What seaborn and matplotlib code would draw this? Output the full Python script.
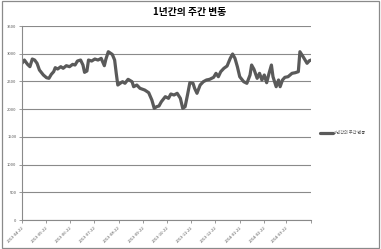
import matplotlib
matplotlib.use("Agg")
import matplotlib.pyplot as plt
import matplotlib.dates as mdates
import matplotlib.patches as mpatches
import seaborn as sns
import pandas as pd

# ---- data ----
start_date = "2013-04-22"
day_offsets = [0, 3, 7, 10, 13, 16, 19, 22, 27, 31, 34, 37, 40, 42, 45, 49, 52, 56, 60, 64,
               67, 70, 74, 77, 79, 82, 84, 88, 92, 96, 100, 104, 106, 109, 114, 117, 119, 121,
               124, 127, 130, 134, 139, 141, 145, 149, 155, 160, 164, 167, 170, 173, 176, 181,
               185, 188, 192, 196, 200, 203, 206, 209, 212, 216, 218, 221, 225, 229, 233, 237,
               242, 245, 248, 251, 255, 259, 263, 266, 269, 272, 275, 280, 284, 288, 290, 293,
               297, 300, 303, 306, 309, 312, 315, 317, 321, 324, 326, 329, 332, 336, 341, 345,
               349, 351, 355, 357, 360, 363, 365]
values = [2827, 2886, 2808, 2766, 2904, 2886, 2827, 2706, 2616, 2567, 2556, 2628, 2676, 2748,
          2724, 2766, 2737, 2784, 2766, 2808, 2796, 2868, 2886, 2796, 2664, 2688, 2886, 2868,
          2904, 2886, 2916, 2784, 2904, 3036, 2988, 2886, 2650, 2435, 2466, 2495, 2466, 2538,
          2495, 2405, 2435, 2376, 2345, 2297, 2165, 2015, 2044, 2057, 2134, 2225, 2195, 2273,
          2255, 2286, 2195, 2015, 2044, 2255, 2477, 2466, 2376, 2286, 2435, 2495, 2526, 2538,
          2574, 2646, 2585, 2676, 2737, 2778, 2916, 2995, 2916, 2766, 2585, 2495, 2466, 2616,
          2796, 2718, 2556, 2646, 2526, 2616, 2477, 2646, 2796, 2585, 2405, 2526, 2405, 2526,
          2574, 2585, 2646, 2657, 2676, 3036, 2946, 2899, 2827, 2874, 2886]
tick_labels = ["2013-04-22", "2013-05-22", "2013-06-22", "2013-07-22", "2013-08-22",
               "2013-09-22", "2013-10-22", "2013-11-22", "2013-12-22", "2014-01-22",
               "2014-02-22", "2014-03-22"]
axis_end = "2014-04-22"
series_name = "1년간의 주간 변동"
title = "1년간의 주간 변동"
y_ticks = [0, 500, 1000, 1500, 2000, 2500, 3000, 3500]

dates = pd.Timestamp(start_date) + pd.to_timedelta(day_offsets, unit="D")
df = pd.DataFrame({"date": dates, "value": values, "series": series_name})

sns.set_theme(style="white")
plt.rcParams["font.family"] = ["Noto Sans CJK KR", "DejaVu Sans"]

W, H = 381, 249
fig = plt.figure(figsize=(W / 100, H / 100), dpi=100)
ax = fig.add_axes([22 / W, (H - 220) / H, 289 / W, 194 / H])

sns.lineplot(data=df, x="date", y="value", hue="series", palette=["#5a5a5a"],
             linewidth=2.3, ax=ax, legend=True)

ax.set_ylim(0, 3500)
ax.set_yticks(y_ticks)
ax.set_yticklabels([str(v) for v in y_ticks], fontsize=3, color="#555555")
ax.set_xlim(pd.Timestamp(start_date), pd.Timestamp(axis_end))
tick_dates = [pd.Timestamp(t) for t in tick_labels] + [pd.Timestamp(axis_end)]
ax.set_xticks(tick_dates)
ax.set_xticklabels(tick_labels + [""], fontsize=3, rotation=45, ha="right",
                   rotation_mode="anchor", color="#555555")
ax.set_xlabel("")
ax.set_ylabel("")

ax.grid(axis="y", color="#8a8a8a", linewidth=0.8)
ax.grid(axis="x", visible=False)
for s in ["top", "right"]:
    ax.spines[s].set_visible(False)
for s in ["left", "bottom"]:
    ax.spines[s].set_color("#8a8a8a")
    ax.spines[s].set_linewidth(0.8)
ax.tick_params(axis="both", which="both", direction="out", length=2.5, width=0.6,
               color="#8a8a8a", pad=1.5, bottom=True, left=True)

leg = ax.legend(loc="center left", bbox_to_anchor=(318 / W, (H - 133) / H),
                bbox_transform=fig.transFigure, frameon=False, fontsize=3,
                handlelength=3, handletextpad=0.4, borderpad=0)
for t in leg.get_texts():
    t.set_color("#555555")

fig.text(190 / W, 1 - 12 / H, title, ha="center", va="center", fontsize=7,
         fontweight="bold", color="#000000")

border = mpatches.Rectangle((1.5 / W, 1.5 / H), (W - 4) / W, (H - 3) / H,
                            transform=fig.transFigure, fill=False,
                            edgecolor="#8a8a8a", linewidth=0.9)
fig.patches.append(border)

fig.savefig("out.png", dpi=100, facecolor="white")
